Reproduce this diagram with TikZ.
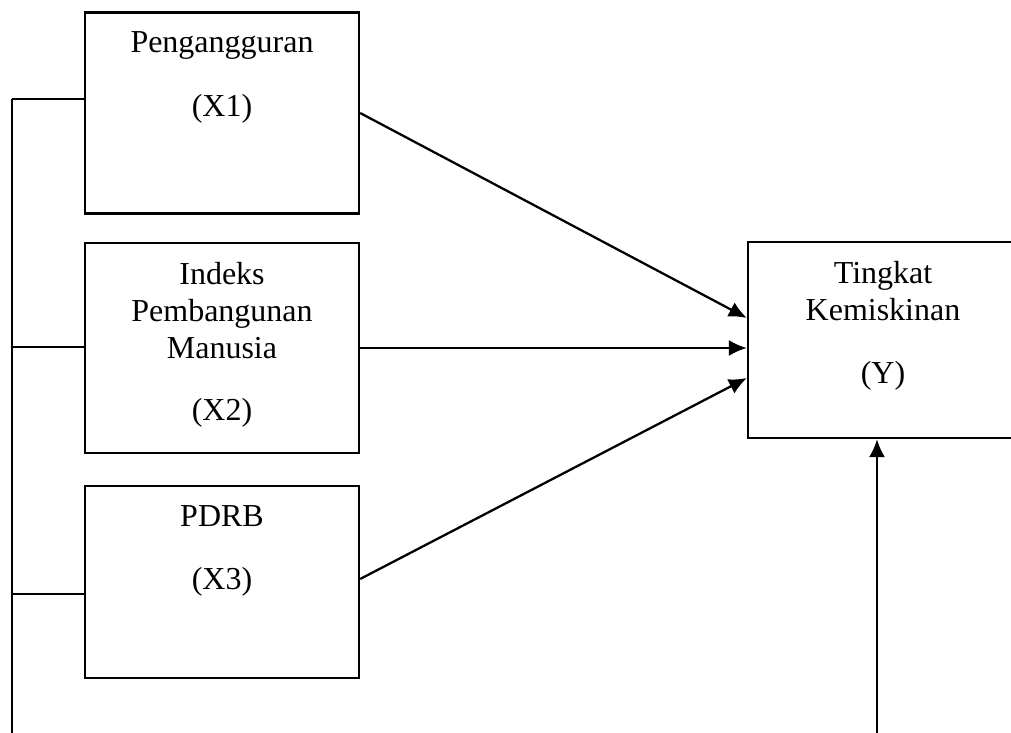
\documentclass[tikz,border=0pt]{standalone}
\usepackage{fontspec}
\setmainfont{Liberation Serif}
\usepackage{tikz}
\usetikzlibrary{arrows.meta}
\usetikzlibrary{calc}

\begin{document}
\begin{tikzpicture}[x=0.2mm, y=-0.2mm, line width=1.3pt]
\tikzset{varbox/.style = {shape=rectangle, draw, inner sep=0pt, minimum width=54.8mm}}
\tikzset{lbl/.style = {anchor=north, align=center, inner sep=0pt, yshift=-3.9mm, font=\fontsize{18.2}{21}\selectfont}}
\tikzset{edge/.style = {->, > = {Latex[length=3.6mm, width=3.2mm]}}}
\clip (0,0) rectangle (1011,733);
\node[varbox, minimum height=40.2mm, label={[lbl]north:{Pengangguran\\[15pt](X1)}}](x1) at (222, 113) {};
\node[varbox, minimum height=42mm, label={[lbl]north:{Indeks\\Pembangunan\\Manusia\\[14pt](X2)}}](x2) at (222, 348) {};
\node[varbox, minimum height=38.4mm, label={[lbl]north:{PDRB\\[15pt](X3)}}](x3) at (222, 582) {};
\node[varbox, minimum width=54mm, minimum height=39.2mm, label={[lbl]north:{Tingkat\\Kemiskinan\\[15pt](Y)}}](y) at (883, 340) {};
\coordinate (b1) at (12, 99);
\coordinate (b2) at (12, 347);
\coordinate (b3) at (12, 594);
\coordinate (bend) at (12, 733);
\coordinate (up) at (877, 733);
\draw (b1) -- (bend);
\draw (b1) -- (b1 -| x1.west);
\draw (b2) -- (b2 -| x2.west);
\draw (b3) -- (b3 -| x3.west);
\draw[edge] (x1.east) -- ($(y.west)+(0,-22)$);
\draw[edge] (x2.east) -- (x2.east -| y.west);
\draw[edge] ($(x3.east)+(0,-3)$) -- ($(y.west)+(0,38)$);
\draw[edge] (up) -- (up |- y.south);
\end{tikzpicture}
\end{document}
